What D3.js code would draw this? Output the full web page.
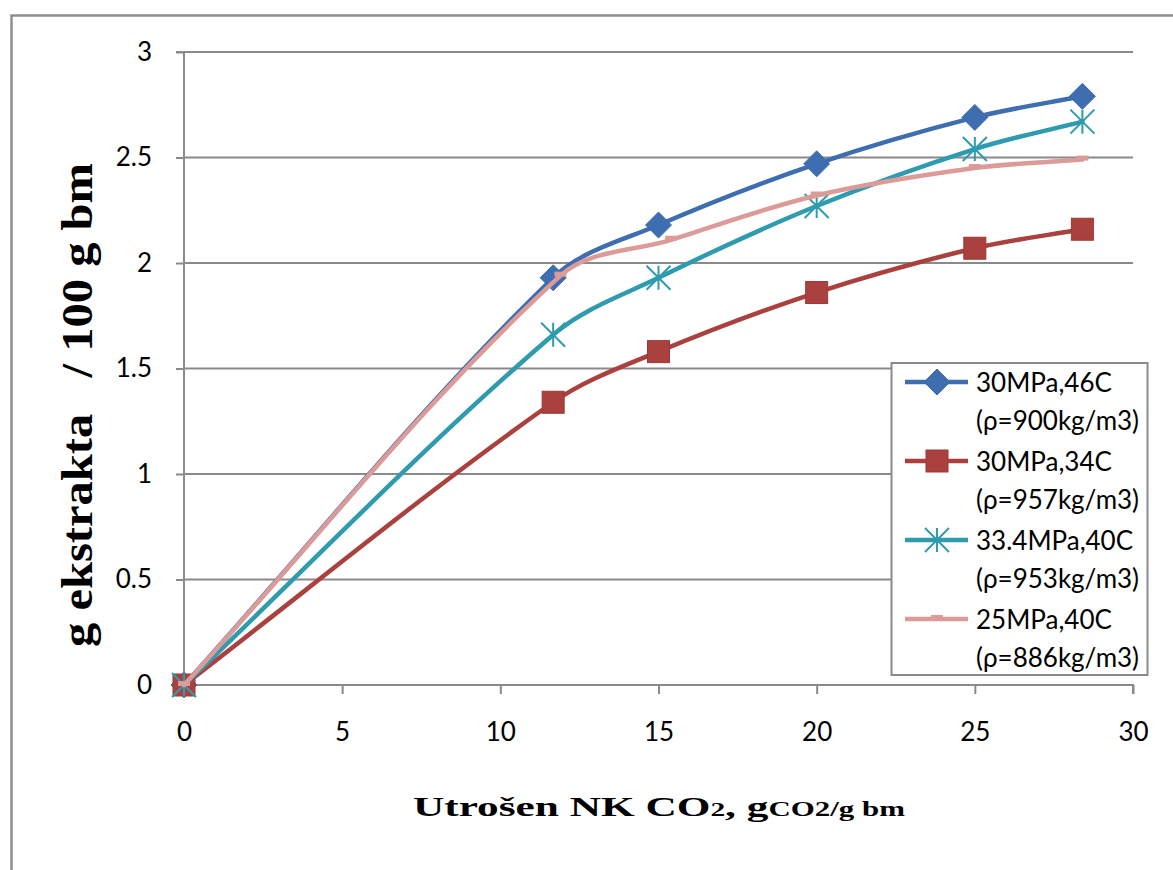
<!DOCTYPE html>
<html>
<head>
<meta charset="utf-8">
<script src="https://cdn.jsdelivr.net/npm/d3@7"></script>
<style>
  html, body { margin: 0; padding: 0; background: #fff; }
  svg { display: block; }
</style>
</head>
<body>
<svg id="chart" width="1173" height="870"></svg>
<script>
// CO2 consumed (g CO2 / g bm) for each extraction run
const xMain = [0, 11.67, 15, 20, 25, 28.4];
const xPink = [0, 11.9, 15.4, 20, 25, 28.4];

// Extract yield, g / 100 g bm
const yBlue = [0, 1.93, 2.18, 2.47, 2.69, 2.79];
const yRed  = [0, 1.34, 1.58, 1.86, 2.07, 2.16];
const yCyan = [0, 1.66, 1.93, 2.27, 2.54, 2.67];
const yPink = [0, 1.94, 2.11, 2.32, 2.45, 2.49];

const seriesNames = ["30MPa,46C", "30MPa,34C", "33.4MPa,40C", "25MPa,40C"];
const seriesNotes = ["(ρ=900kg/m3)", "(ρ=957kg/m3)", "(ρ=953kg/m3)", "(ρ=886kg/m3)"];

const xTicks = [0, 5, 10, 15, 20, 25, 30];
const yTicks = [0, 0.5, 1, 1.5, 2, 2.5, 3];
const yTickLabels = ["0", "0.5", "1", "1.5", "2", "2.5", "3"];

const series = [
  { name: seriesNames[0], note: seriesNotes[0], xs: xMain, ys: yBlue, color: "#3E6DB0", marker: "diamond" },
  { name: seriesNames[1], note: seriesNotes[1], xs: xMain, ys: yRed,  color: "#AB413E", marker: "square" },
  { name: seriesNames[2], note: seriesNotes[2], xs: xMain, ys: yCyan, color: "#2E9BAE", marker: "star" },
  { name: seriesNames[3], note: seriesNotes[3], xs: xPink, ys: yPink, color: "#DC9A98", marker: "dash" }
];

const svg = d3.select("#chart");
const grid = "#8a8a8a";
const sans = "Lato, 'Open Sans', sans-serif";
const serif = "'Liberation Serif', 'Times New Roman', serif";

// outer frame (left and top edges)
svg.append("path")
  .attr("d", "M11.5,870 L11.5,15.5 L1173,15.5")
  .attr("fill", "none").attr("stroke", "#8f8f8f").attr("stroke-width", 2.5);

const x = d3.scaleLinear().domain([0, 30]).range([184, 1133]);
const y = d3.scaleLinear().domain([0, 3]).range([685, 52]);

// horizontal gridlines
svg.append("g").selectAll("line")
  .data(yTicks.filter(d => d > 0))
  .join("line")
  .attr("x1", x(0)).attr("x2", x(30))
  .attr("y1", d => y(d)).attr("y2", d => y(d))
  .attr("stroke", grid).attr("stroke-width", 2);

// y axis
const yAxis = d3.axisLeft(y).tickValues(yTicks)
  .tickFormat((d, i) => yTickLabels[i]).tickSize(8).tickPadding(24);
const gy = svg.append("g").attr("transform", `translate(${x(0)},0)`).call(yAxis);

// x axis
const xAxis = d3.axisBottom(x).tickValues(xTicks).tickSize(9).tickPadding(38);
const gx = svg.append("g").attr("transform", `translate(0,${y(0)})`).call(xAxis);

[gx, gy].forEach(g => {
  g.select(".domain").attr("stroke", grid).attr("stroke-width", 2);
  g.selectAll(".tick line").attr("stroke", grid).attr("stroke-width", 2);
  g.selectAll(".tick text")
    .attr("fill", "#000")
    .style("font-family", sans)
    .style("font-size", "26px");
});
gx.selectAll(".tick text").attr("dy", "0.35em");
gy.select(".domain").attr("d", `M-8,${y(3)}H0V${y(0)}`);
gx.select(".domain").attr("d", `M${x(0)},0H${x(30)}V9`);

// Smoothed polyline: cubic Bezier segments whose tangents follow the
// neighbouring points, with handle lengths tied to each segment's own length
// so short segments next to long ones do not overshoot.
function smoothPath(pts) {
  const n = pts.length;
  const tangent = pts.map((p, i) => {
    const a = pts[Math.max(0, i - 1)], b = pts[Math.min(n - 1, i + 1)];
    const dx = b[0] - a[0], dy = b[1] - a[1];
    const len = Math.hypot(dx, dy) || 1;
    return [dx / len, dy / len];
  });
  const p = d3.path();
  p.moveTo(pts[0][0], pts[0][1]);
  for (let i = 0; i < n - 1; i++) {
    const a = pts[i], b = pts[i + 1];
    const h = Math.hypot(b[0] - a[0], b[1] - a[1]) / 3;
    p.bezierCurveTo(
      a[0] + tangent[i][0] * h, a[1] + tangent[i][1] * h,
      b[0] - tangent[i + 1][0] * h, b[1] - tangent[i + 1][1] * h,
      b[0], b[1]);
  }
  return p.toString();
}

function drawMarker(g, type, cx, cy, color) {
  if (type === "diamond") {
    const r = 13;
    g.append("path")
      .attr("d", `M${cx},${cy - r}L${cx + r},${cy}L${cx},${cy + r}L${cx - r},${cy}Z`)
      .attr("fill", color).attr("stroke", color).attr("stroke-width", 1);
  } else if (type === "square") {
    const s = 22;
    g.append("rect")
      .attr("x", cx - s / 2).attr("y", cy - s / 2)
      .attr("width", s).attr("height", s)
      .attr("fill", color).attr("stroke", "#9a3a37").attr("stroke-width", 1);
  } else if (type === "star") {
    const r = 12;
    g.append("path")
      .attr("d", `M${cx - r},${cy - r}L${cx + r},${cy + r}M${cx - r},${cy + r}L${cx + r},${cy - r}M${cx},${cy - r}L${cx},${cy + r}`)
      .attr("stroke", color).attr("stroke-width", 2).attr("fill", "none");
  } else if (type === "dash") {
    g.append("rect")
      .attr("x", cx - 6).attr("y", cy - 4)
      .attr("width", 12).attr("height", 5)
      .attr("fill", color);
  }
}

series.forEach(s => {
  const g = svg.append("g");
  const pts = s.xs.map((xv, i) => [x(xv), y(s.ys[i])]);
  g.append("path")
    .attr("d", smoothPath(pts))
    .attr("fill", "none").attr("stroke", s.color)
    .attr("stroke-width", 4.5).attr("stroke-linejoin", "round").attr("stroke-linecap", "round");
  pts.forEach(p => drawMarker(g, s.marker, p[0], p[1], s.color));
});

// legend
const lg = svg.append("g");
lg.append("rect")
  .attr("x", 891.5).attr("y", 363).attr("width", 256).attr("height", 312)
  .attr("fill", "#fff").attr("stroke", grid).attr("stroke-width", 2);
const rowTop = 382, rowStep = 79, noteGap = 38;
series.forEach((s, i) => {
  const cy = rowTop + i * rowStep;
  lg.append("line")
    .attr("x1", 905).attr("x2", 968).attr("y1", cy).attr("y2", cy)
    .attr("stroke", s.color).attr("stroke-width", 4.5);
  drawMarker(lg, s.marker, 937, cy, s.color);
  lg.append("text")
    .attr("x", 976).attr("y", cy + 10)
    .style("font-family", sans).style("font-size", "26px")
    .attr("fill", "#000").text(s.name);
  lg.append("text")
    .attr("x", 976).attr("y", cy + 10 + noteGap)
    .style("font-family", sans).style("font-size", "26px")
    .attr("fill", "#000").text(s.note);
});

// axis titles
const xt = svg.append("text")
  .attr("x", 413).attr("y", 816)
  .attr("textLength", 492).attr("lengthAdjust", "spacingAndGlyphs")
  .style("font-family", serif).style("font-weight", "bold").attr("fill", "#000");
xt.append("tspan").style("font-size", "28px").text("Utrošen NK CO");
xt.append("tspan").style("font-size", "19px").text("2");
xt.append("tspan").style("font-size", "28px").text(", g");
xt.append("tspan").style("font-size", "20px").text("CO2/g bm");

svg.append("text")
  .attr("transform", "translate(92,647) rotate(-90)")
  .attr("textLength", 484).attr("lengthAdjust", "spacingAndGlyphs")
  .style("font-family", serif).style("font-weight", "bold").style("font-size", "44px")
  .attr("fill", "#000")
  .style("white-space", "pre")
  .text("g ekstrakta   / 100 g bm");
</script>
</body>
</html>
